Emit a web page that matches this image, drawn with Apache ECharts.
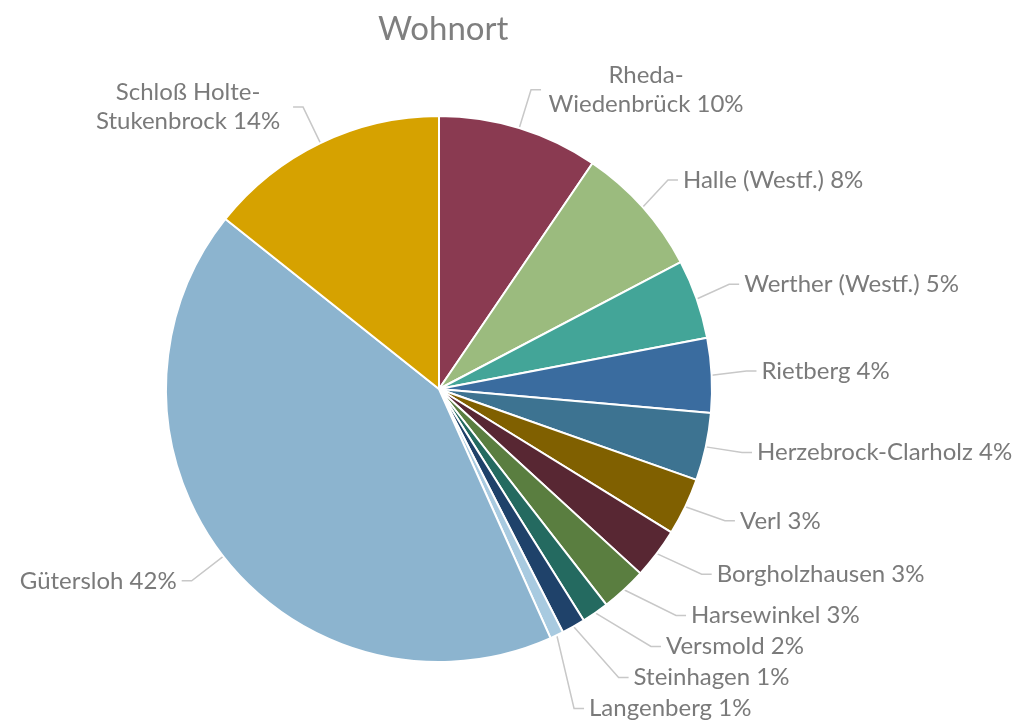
<!DOCTYPE html>
<html>
<head>
<meta charset="utf-8">
<title>Wohnort</title>
<script src="https://cdn.jsdelivr.net/npm/echarts@6/dist/echarts.min.js"></script>
<style>
  html, body { margin: 0; padding: 0; background: #fff; }
  #pie { width: 1019px; height: 724px; }
</style>
</head>
<body>
<div id="pie"></div>
<script>
// Wohnort, share in percent (clockwise from top)
const places = [
  "Rheda-Wiedenbrück", "Halle (Westf.)", "Werther (Westf.)", "Rietberg",
  "Herzebrock-Clarholz", "Verl", "Borgholzhausen", "Harsewinkel",
  "Versmold", "Steinhagen", "Langenberg", "Gütersloh", "Schloß Holte-Stukenbrock"
];
const shares = [9.5, 7.8, 4.7, 4.4, 4.0, 3.4, 3.0, 2.7, 1.6, 1.4, 0.8, 42.4, 14.3];
const colors = [
  "#8a3a51", "#9bbb7e", "#43a598", "#3a6c9f", "#3d7391", "#806000", "#582733",
  "#5a7e40", "#246a60", "#1f426a", "#a8cae0", "#8cb4cf", "#d6a200"
];
// names that break onto two lines after the hyphen
const wrapped = ["Rheda-Wiedenbrück", "Schloß Holte-Stukenbrock"];

var dom = document.getElementById("pie");
var myChart = echarts.init(dom, null, { renderer: "canvas" });

var option = {
  animation: false,
  title: {
    text: "Wohnort",
    left: 373,
    top: 8,
    textStyle: {
      fontFamily: "Lato",
      fontWeight: "normal",
      fontSize: 33,
      color: "#7f7f7f"
    }
  },
  series: [
    {
      type: "pie",
      center: [439, 389],
      radius: 273,
      startAngle: 90,
      clockwise: true,
      itemStyle: { borderColor: "#fff", borderWidth: 2 },
      label: {
        show: true,
        position: "outside",
        overflow: "none",
        fontFamily: "Lato",
        fontSize: 24,
        lineHeight: 29,
        color: "#7a7a7a",
        formatter: function (p) {
          let text = p.name + " " + Math.round(p.value) + "%";
          if (wrapped.indexOf(p.name) >= 0) {
            let parts = text.split("-");
            return "{c|" + parts[0] + "-}\n{c|" + parts.slice(1).join("-") + "}";
          }
          return text;
        },
        rich: {
          c: { width: 200, align: "center", fontFamily: "Lato", fontSize: 24, lineHeight: 29, color: "#7a7a7a" }
        }
      },
      labelLine: {
        show: true,
        length: 40,
        length2: 10,
        lineStyle: { color: "#c8c8c8", width: 1.5 }
      },
      data: places.map(function (name, i) {
        return { name: name, value: shares[i], itemStyle: { color: colors[i] } };
      })
    }
  ]
};

myChart.setOption(option);
window.addEventListener("resize", myChart.resize);
</script>
</body>
</html>
